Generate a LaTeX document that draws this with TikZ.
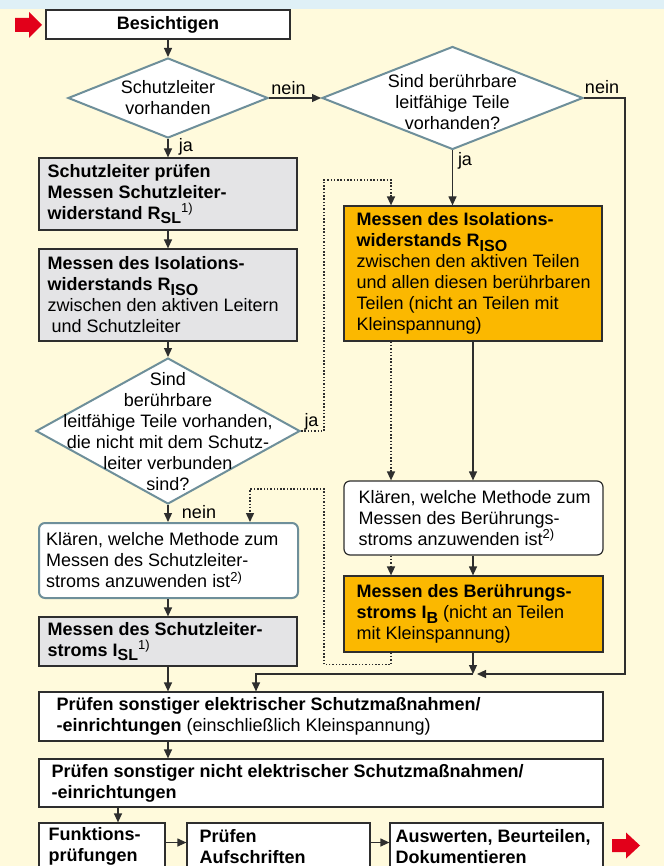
\documentclass[tikz,border=0pt]{standalone}
\usepackage{fontspec}
\setmainfont{Liberation Sans}
\usetikzlibrary{arrows.meta,shapes.geometric}
\definecolor{bgc}{HTML}{FFFADC}
\definecolor{topc}{HTML}{DFF0F6}
\definecolor{linec}{HTML}{2E2E2E}
\definecolor{steel}{HTML}{6E8F9A}
\definecolor{greyf}{HTML}{E4E4E6}
\definecolor{orangef}{HTML}{FBB800}
\definecolor{redc}{HTML}{E2001A}
\newcommand{\mysub}[1]{\raisebox{-4.5pt}{\fontsize{16}{16}\selectfont\bfseries #1}}
\newcommand{\mysup}[1]{\raisebox{6.5pt}{\fontsize{13}{13}\selectfont\mdseries #1}}
\begin{document}
\begin{tikzpicture}[x=1pt,y=-1pt,
 box/.style={draw=linec, line width=1.2pt, rectangle, inner sep=0pt},
 greybox/.style={box, fill=greyf},
 orbox/.style={box, fill=orangef},
 whitebox/.style={box, fill=white},
 rbox/.style={box, fill=white, rounded corners=6pt},
 lbox/.style={rectangle, draw=steel, line width=2pt, fill=white, rounded corners=6pt, inner sep=0pt},
 dia/.style={diamond, draw=steel, line width=2pt, fill=white, inner sep=0pt},
 txt/.style={align=left, inner sep=0pt, anchor=west, font=\fontsize{18}{21}\selectfont},
 ctxt/.style={align=center, inner sep=0pt, font=\fontsize{18}{21}\selectfont},
 lab/.style={inner sep=0pt, font=\fontsize{18}{21}\selectfont},
 arr/.style={draw=linec, line width=1.2pt, -{Triangle[length=9pt,width=8pt]}},
 dotarr/.style={draw=linec, line width=1.4pt, dash pattern=on 1.5pt off 1.8pt, -{Triangle[length=9pt,width=8pt]}}
]
\useasboundingbox (0,0) rectangle (664,866);
\clip (0,0) rectangle (664,866);
\fill[bgc] (0,0) rectangle (664,866);
\fill[topc] (0,0) rectangle (664,9);

% red arrows
\fill[redc] (15,18) -- (29,18) -- (29,12) -- (42,25) -- (29,38) -- (29,32) -- (15,32) -- cycle;
\fill[redc] (612,839) -- (626,839) -- (626,832.5) -- (640,845.5) -- (626,858.5) -- (626,852) -- (612,852) -- cycle;

% left column
\node[whitebox, minimum width=244pt, minimum height=29pt, font=\fontsize{18}{21}\selectfont\bfseries] (besicht) at (168,24.5) {Besichtigen};

\node[dia, minimum width=200pt, minimum height=80pt] (d1) at (168,98) {};
\node[ctxt] (d1t) at (168,98) {Schutzleiter\\vorhanden};

\node[greybox, minimum width=258pt, minimum height=72pt] (g1) at (168,194) {};
\node[txt] (g1t) at ([xshift=9pt]g1.west) {\textbf{Schutzleiter prüfen}\\\textbf{Messen Schutzleiter-}\\\textbf{widerstand R\mysub{SL}\mysup{1)}}};

\node[greybox, minimum width=258pt, minimum height=92pt] (g2) at (168,295) {};
\node[txt] (g2t) at ([xshift=9pt]g2.west) {\textbf{Messen des Isolations-}\\\textbf{widerstands R\mysub{ISO}}\\zwischen den aktiven Leitern\\\hspace*{4pt}und Schutzleiter};

\node[dia, minimum width=264pt, minimum height=146pt] (d3) at (168,431) {};
\node[ctxt] (d3t) at (168,431.5) {Sind\\berührbare\\leitfähige Teile vorhanden,\\die nicht mit dem Schutz-\\leiter verbunden\\sind?};

\node[lbox, minimum width=259pt, minimum height=75pt] (lr) at (168.5,560.5) {};
\node[txt] (lrt) at ([xshift=8pt]lr.west) {Klären, welche Methode zum\\Messen des Schutzleiter-\\stroms anzuwenden ist\mysup{2)}};

\node[greybox, minimum width=258pt, minimum height=49pt] (g3) at (168,641.5) {};
\node[txt] (g3t) at ([xshift=9pt]g3.west) {\textbf{Messen des Schutzleiter-}\\\textbf{stroms I\mysub{SL}\mysup{1)}}};

% right column
\node[dia, minimum width=261pt, minimum height=103pt] (d2) at (452.5,98) {};
\node[ctxt] (d2t) at (452.5,102) {Sind berührbare\\leitfähige Teile\\vorhanden?};

\node[orbox, minimum width=258pt, minimum height=135pt] (o1) at (473,273.5) {};
\node[txt] (o1t) at ([xshift=13pt]o1.west) {\textbf{Messen des Isolations-}\\\textbf{widerstands R\mysub{ISO}}\\zwischen den aktiven Teilen\\und allen diesen berührbaren\\Teilen (nicht an Teilen mit\\Kleinspannung)};

\node[rbox, minimum width=259pt, minimum height=74pt] (rr) at (473.5,518) {};
\node[txt] (rrt) at ([xshift=15pt]rr.west) {Klären, welche Methode zum\\Messen des Berührungs-\\stroms anzuwenden ist\mysup{2)}};

\node[orbox, minimum width=259pt, minimum height=76pt] (o2) at (473.5,614) {};
\node[txt] (o2t) at ([xshift=13pt]o2.west) {\textbf{Messen des Berührungs-}\\\textbf{stroms I\mysub{B}} (nicht an Teilen\\mit Kleinspannung)};

% bottom
\node[whitebox, minimum width=564pt, minimum height=49pt] (b1) at (321,716.5) {};
\node[txt] (b1t) at ([xshift=18pt]b1.west) {\textbf{Prüfen sonstiger elektrischer Schutzmaßnahmen/}\\\textbf{-einrichtungen} (einschließlich Kleinspannung)};

\node[whitebox, minimum width=564pt, minimum height=48pt] (b2) at (321,783) {};
\node[txt] (b2t) at ([xshift=13pt]b2.west) {\textbf{Prüfen sonstiger nicht elektrischer Schutzmaßnahmen/}\\\textbf{-einrichtungen}};

\node[whitebox, minimum width=126pt, minimum height=47pt] (f1) at (102,846.5) {};
\node[txt] (f1t) at ([xshift=10pt]f1.west) {\textbf{Funktions-}\\\textbf{prüfungen}};
\node[whitebox, minimum width=183pt, minimum height=47pt] (f2) at (278.5,846.5) {};
\node[txt] (f2t) at ([xshift=13pt]f2.west) {\textbf{Prüfen}\\\textbf{Aufschriften}};
\node[whitebox, minimum width=213pt, minimum height=47pt] (f3) at (496.5,846.5) {};
\node[txt] (f3t) at ([xshift=6pt]f3.west) {\textbf{Auswerten, Beurteilen,}\\\textbf{Dokumentieren}};

% labels
\node[lab] (l1) at (288.5,88) {nein};
\node[lab] (l2) at (186,147) {ja};
\node[lab] (l3) at (602,87) {nein};
\node[lab] (l4) at (465,161) {ja};
\node[lab] (l5) at (311.5,422) {ja};
\node[lab] (l6) at (199,512) {nein};

% solid connectors
\draw[arr] (besicht.south) -- (d1.north);
\draw[arr] (d1.east) -- (d1.east -| d2.west);
\draw[arr] (d1.south) -- (g1.north);
\draw[arr] (g1.south) -- (g2.north);
\draw[arr] (g2.south) -- (d3.north);
\draw[arr] (d3.south) -- (d3.south |- lr.north);
\draw[arr] (g3.north |- lr.south) -- (g3.north);
\draw[arr] (g3.south) -- (g3.south |- b1.north);
\draw[arr] (g3.south |- b1.south) -- (g3.south |- b2.north);
\draw[arr] ([xshift=16pt]f1.north |- b2.south) -- ([xshift=16pt]f1.north);
\draw[arr] ([yshift=4pt]f1.east) -- ([yshift=4pt]f1.east -| f2.west);
\draw[arr] ([yshift=4pt]f2.east) -- ([yshift=4pt]f2.east -| f3.west);
\draw[arr] (d2.south) -- (d2.south |- o1.north);
\draw[arr] (o1.south) -- (o1.south |- rr.north);
\draw[arr] (o1.south |- rr.south) -- (o1.south |- o2.north);
\coordinate (m) at (473,674);
\draw[arr] (o1.south |- o2.south) -- (m);
\draw[arr] (d2.east) -- ++(41,0) |- ([xshift=4pt]m);
\draw[arr] (m) -| ([xshift=-65pt]b1.north);

% dotted connectors
\coordinate (dl) at (324,180);
\draw[dotarr] (d3.east) -| (dl) -| ([xshift=-82pt]o1.north);
\draw[dotarr] ([xshift=-82pt]o1.south) -- ([xshift=-82pt]o1.south |- rr.north);
\draw[dotarr] ([xshift=-82pt]o1.south |- rr.south) -- ([xshift=-82pt]o1.south |- o2.north);
\coordinate (dq) at (324,489);
\draw[dotarr] ([xshift=-82pt]o1.south |- o2.south) -- ++(0,12) -| (dq) -| ([xshift=81.5pt]lr.north);
\end{tikzpicture}
\end{document}
